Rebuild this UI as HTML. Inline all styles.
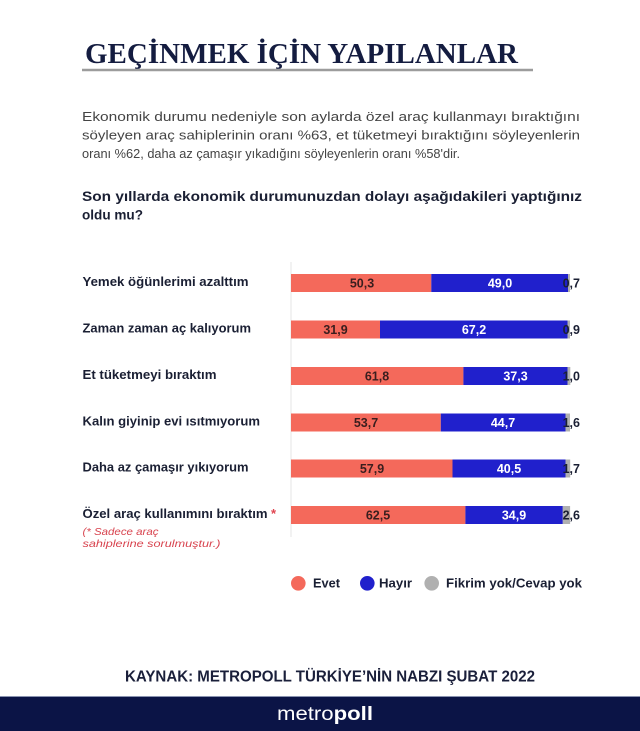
<!DOCTYPE html>
<html>
<head>
<meta charset="utf-8">
<style>
  html,body{margin:0;padding:0;background:#fff;}
  svg{display:block;}
  .sans{font-family:"Liberation Sans",sans-serif;}
</style>
</head>
<body>
<svg width="640" height="731" viewBox="0 0 640 731" xmlns="http://www.w3.org/2000/svg">
  <rect x="0" y="0" width="640" height="731" fill="#ffffff"/>

  <!-- Title -->
  <text x="85" y="63" font-family="Liberation Serif, serif" font-weight="bold" font-size="29" fill="#141c40" textLength="433" lengthAdjust="spacingAndGlyphs">GEÇİNMEK İÇİN YAPILANLAR</text>
  <line x1="82" y1="70" x2="533" y2="70" stroke="#9c9c9c" stroke-width="2.5"/>

  <!-- Paragraph -->
  <g class="sans" font-size="12.5" fill="#444444">
    <text x="82" y="121" textLength="498" lengthAdjust="spacingAndGlyphs">Ekonomik durumu nedeniyle son aylarda özel araç kullanmayı bıraktığını</text>
    <text x="82" y="139.5" textLength="498" lengthAdjust="spacingAndGlyphs">söyleyen araç sahiplerinin oranı %63, et tüketmeyi bıraktığını söyleyenlerin</text>
    <text x="82" y="158" textLength="378" lengthAdjust="spacingAndGlyphs">oranı %62, daha az çamaşır yıkadığını söyleyenlerin oranı %58'dir.</text>
  </g>

  <!-- Question -->
  <g class="sans" font-size="14" font-weight="bold" fill="#1a1f33">
    <text x="82" y="201" textLength="500" lengthAdjust="spacingAndGlyphs">Son yıllarda ekonomik durumunuzdan dolayı aşağıdakileri yaptığınız</text>
    <text x="82" y="219.5" textLength="61" lengthAdjust="spacingAndGlyphs">oldu mu?</text>
  </g>

  <!-- Axis line -->
  <line x1="291" y1="262" x2="291" y2="537" stroke="#e4e4e4" stroke-width="1"/>

  <!-- Row labels -->
  <g class="sans" font-size="13" font-weight="bold" fill="#1a1f33">
    <text x="82.5" y="286" textLength="166" lengthAdjust="spacingAndGlyphs">Yemek öğünlerimi azalttım</text>
    <text x="82.5" y="332.5" textLength="168.5" lengthAdjust="spacingAndGlyphs">Zaman zaman aç kalıyorum</text>
    <text x="82.5" y="379" textLength="134" lengthAdjust="spacingAndGlyphs">Et tüketmeyi bıraktım</text>
    <text x="82.5" y="425.5" textLength="177.5" lengthAdjust="spacingAndGlyphs">Kalın giyinip evi ısıtmıyorum</text>
    <text x="82.5" y="471.5" textLength="166" lengthAdjust="spacingAndGlyphs">Daha az çamaşır yıkıyorum</text>
    <text x="82.5" y="518" textLength="185" lengthAdjust="spacingAndGlyphs">Özel araç kullanımını bıraktım</text>
  </g>
  <text x="271" y="518" class="sans" font-size="13" font-weight="bold" fill="#e0444f">*</text>

  <!-- Note -->
  <g class="sans" font-size="10.5" font-style="italic" fill="#d8434e">
    <text x="82.5" y="535" textLength="76" lengthAdjust="spacingAndGlyphs">(* Sadece araç</text>
    <text x="82.5" y="547" textLength="138" lengthAdjust="spacingAndGlyphs">sahiplerine sorulmuştur.)</text>
  </g>

  <!-- Bars: x0=291, W=279 -->
  <!-- Row 1 -->
  <rect x="291" y="274" width="140.3" height="18" fill="#f4695b"/>
  <rect x="431.3" y="274" width="136.7" height="18" fill="#2020cc"/>
  <rect x="568" y="274" width="2" height="18" fill="#b0b0b0"/>
  <!-- Row 2 -->
  <rect x="291" y="320.5" width="89" height="18" fill="#f4695b"/>
  <rect x="380" y="320.5" width="187.5" height="18" fill="#2020cc"/>
  <rect x="567.5" y="320.5" width="2.5" height="18" fill="#b0b0b0"/>
  <!-- Row 3 -->
  <rect x="291" y="367" width="172.4" height="18" fill="#f4695b"/>
  <rect x="463.4" y="367" width="104.1" height="18" fill="#2020cc"/>
  <rect x="567.5" y="367" width="2.8" height="18" fill="#b0b0b0"/>
  <!-- Row 4 -->
  <rect x="291" y="413.5" width="149.8" height="18" fill="#f4695b"/>
  <rect x="440.8" y="413.5" width="124.7" height="18" fill="#2020cc"/>
  <rect x="565.5" y="413.5" width="4.5" height="18" fill="#b0b0b0"/>
  <!-- Row 5 -->
  <rect x="291" y="459.5" width="161.5" height="18" fill="#f4695b"/>
  <rect x="452.5" y="459.5" width="113" height="18" fill="#2020cc"/>
  <rect x="565.5" y="459.5" width="4.7" height="18" fill="#b0b0b0"/>
  <!-- Row 6 -->
  <rect x="291" y="506" width="174.4" height="18" fill="#f4695b"/>
  <rect x="465.4" y="506" width="97.4" height="18" fill="#2020cc"/>
  <rect x="562.8" y="506" width="7.3" height="18" fill="#b0b0b0"/>

  <!-- Values in red -->
  <g class="sans" font-size="12.5" font-weight="bold" fill="#3a1e1e" text-anchor="middle">
    <text x="362" y="287.5">50,3</text>
    <text x="335.5" y="334">31,9</text>
    <text x="377" y="380.5">61,8</text>
    <text x="366" y="427">53,7</text>
    <text x="372" y="473">57,9</text>
    <text x="378" y="519.5">62,5</text>
  </g>
  <!-- Values in blue -->
  <g class="sans" font-size="12.5" font-weight="bold" fill="#ffffff" text-anchor="middle">
    <text x="500" y="287.5">49,0</text>
    <text x="474" y="334">67,2</text>
    <text x="515.5" y="380.5">37,3</text>
    <text x="503" y="427">44,7</text>
    <text x="509" y="473">40,5</text>
    <text x="514" y="519.5">34,9</text>
  </g>
  <!-- End values -->
  <g class="sans" font-size="12.5" font-weight="bold" fill="#1a1f33" text-anchor="end">
    <text x="580" y="287.5">0,7</text>
    <text x="580" y="334">0,9</text>
    <text x="580" y="380.5">1,0</text>
    <text x="580" y="427">1,6</text>
    <text x="580" y="473">1,7</text>
    <text x="580" y="519.5">2,6</text>
  </g>

  <!-- Legend -->
  <circle cx="298.3" cy="583.3" r="7.3" fill="#f4695b"/>
  <circle cx="367.3" cy="583.3" r="7.3" fill="#2020cc"/>
  <circle cx="431.7" cy="583.3" r="7.3" fill="#b0b0b0"/>
  <g class="sans" font-size="13" font-weight="bold" fill="#1a1f33">
    <text x="313" y="587.5" textLength="27" lengthAdjust="spacingAndGlyphs">Evet</text>
    <text x="379" y="587.5" textLength="33" lengthAdjust="spacingAndGlyphs">Hayır</text>
    <text x="446" y="587.5" textLength="136" lengthAdjust="spacingAndGlyphs">Fikrim yok/Cevap yok</text>
  </g>

  <!-- Source -->
  <text x="125" y="681.5" class="sans" font-size="16" font-weight="bold" fill="#1a1f3a" textLength="410" lengthAdjust="spacingAndGlyphs">KAYNAK: METROPOLL TÜRKİYE’NİN NABZI ŞUBAT 2022</text>

  <!-- Footer band -->
  <rect x="0" y="696" width="640" height="35" fill="#0b1446"/>
  <line x1="0" y1="696.5" x2="640" y2="696.5" stroke="#8a93b0" stroke-width="1"/>
  <text x="277" y="720" class="sans" font-size="19" fill="#ffffff" textLength="96" lengthAdjust="spacingAndGlyphs">metro<tspan font-weight="bold">poll</tspan></text>
</svg>
</body>
</html>
